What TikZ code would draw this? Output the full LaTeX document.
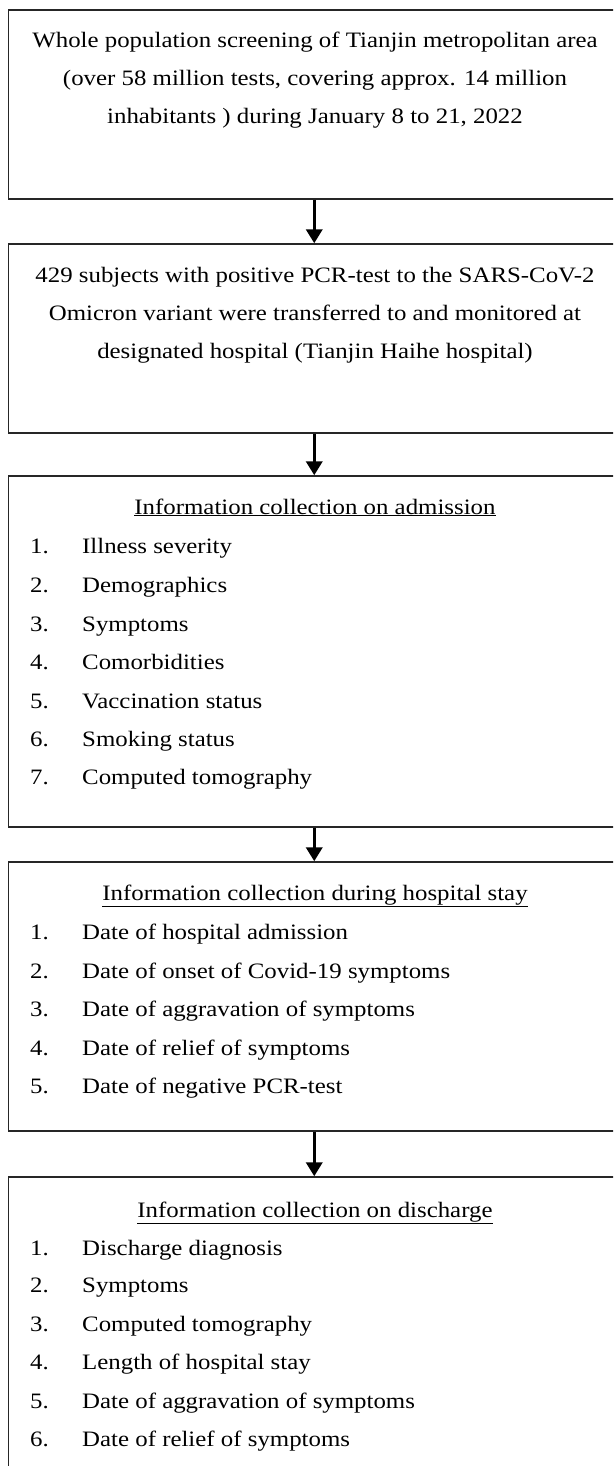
\documentclass[tikz,border=0pt]{standalone}
\usepackage{fontspec}
\setmainfont{Liberation Serif}[FakeStretch=1.13]
\usetikzlibrary{arrows.meta}
\begin{document}
\begin{tikzpicture}[x=1pt,y=-1pt,
  box/.style={draw=black!85, line width=1.4pt, rectangle, inner sep=0pt, minimum width=611.5pt},
  txt/.style={inner sep=0pt, align=center, font=\fontsize{22}{38}\selectfont},
  head/.style={inner sep=0pt, anchor=base, font=\fontsize{22}{25}\selectfont},
  num/.style={inner sep=0pt, anchor=base west, font=\fontsize{22}{25}\selectfont},
  item/.style={inner sep=0pt, anchor=base west, font=\fontsize{22}{25}\selectfont},
  arr/.style={line width=3.5pt, -{Triangle[width=16pt,length=14pt]}}]
\useasboundingbox (0,0) rectangle (613,1466);
\clip (0,0) rectangle (613,1466);
\fill[white] (0,0) rectangle (613,1466);
% boxes
\node[box, minimum height=189pt] (b1) at (314.25,104.5) {};
\node[box, minimum height=189pt] (b2) at (314.25,338.5) {};
\node[box, minimum height=351pt] (b3) at (314.25,651.5) {};
\node[box, minimum height=269pt] (b4) at (314.25,996.5) {};
\node[box, minimum height=343pt] (b5) at (314.25,1348.5) {};
% arrows
\draw[arr] (b1.south) -- (b2.north);
\draw[arr] (b2.south) -- (b3.north);
\draw[arr] (b3.south) -- (b4.north);
\draw[arr] (b4.south) -- (b5.north);
% box 1 and 2 text
\node[txt] (t1) at (315,80) {Whole population screening of Tianjin metropolitan area\\(over 58 million tests, covering approx. 14 million\\inhabitants ) during January 8 to 21, 2022};
\node[txt] (t2) at (315,315) {429 subjects with positive PCR-test to the SARS-CoV-2\\Omicron variant were transferred to and monitored at\\designated hospital (Tianjin Haihe hospital)};
% box 3
\node[head] (h3) at (315,514) {\underline{Information collection on admission}};
\foreach \i/\y/\t in {1/546/Illness severity, 2/585/Demographics, 3/624/Symptoms, 4/662/Comorbidities, 5/701/Vaccination status, 6/739/Smoking status, 7/777/Computed tomography}{
  \node[num] (n3\i) at (30,\y+7) {\i.};
  \node[item] (i3\i) at (82,\y+7) {\t};
}
% box 4
\node[head] (h4) at (315,900) {\underline{Information collection during hospital stay}};
\foreach \i/\y/\t in {1/932/Date of hospital admission, 2/971/Date of onset of Covid-19 symptoms, 3/1009/Date of aggravation of symptoms, 4/1048/Date of relief of symptoms, 5/1086/Date of negative PCR-test}{
  \node[num] (n4\i) at (30,\y+7) {\i.};
  \node[item] (i4\i) at (82,\y+7) {\t};
}
% box 5
\node[head] (h5) at (315,1217) {\underline{Information collection on discharge}};
\foreach \i/\y/\t in {1/1248/Discharge diagnosis, 2/1285/Symptoms, 3/1324/Computed tomography, 4/1362/Length of hospital stay, 5/1401/Date of aggravation of symptoms, 6/1439/Date of relief of symptoms}{
  \node[num] (n5\i) at (30,\y+7) {\i.};
  \node[item] (i5\i) at (82,\y+7) {\t};
}
\end{tikzpicture}
\end{document}
